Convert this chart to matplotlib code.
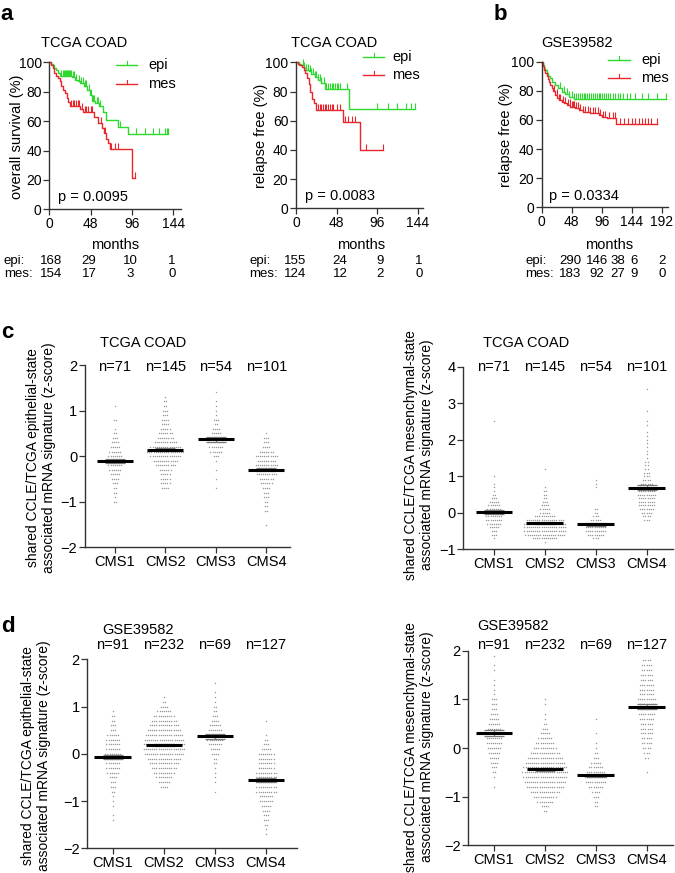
import numpy as np
import matplotlib
matplotlib.use('Agg')
import matplotlib.pyplot as plt
from matplotlib.lines import Line2D
from matplotlib.transforms import blended_transform_factory

plt.rcParams['font.family'] = ['Liberation Sans', 'DejaVu Sans']
plt.rcParams['font.size'] = 9.5
plt.rcParams['axes.linewidth'] = 1.0

W, H = 675, 873
GREEN = '#2cd92c'
RED = '#e8262b'
DOT = '#9a9a9a'

# ---------------- Kaplan-Meier data (step times / survival %) ----------------
# a, TCGA COAD overall survival
os_epi_t = [0, 2, 4, 6, 8, 10, 13, 26, 30, 33, 36, 40, 44, 47, 50, 53, 58, 62, 66, 80, 92]
os_epi_s = [100, 99, 98, 96, 95, 93, 91, 90, 88, 87, 86, 84, 81, 78, 74, 72, 70, 66, 61, 56, 51]
os_epi_end = 138
os_epi_cens = [14, 16, 17, 18, 19, 20, 21, 22, 23, 24, 25, 27, 29, 31, 35, 37, 39, 41, 43,
               46, 48, 51, 52, 55, 57, 59, 82, 101, 111, 120, 128, 134, 137, 138]
os_mes_t = [0, 2, 4, 6, 8, 10, 12, 14, 16, 18, 20, 22, 24, 36, 39, 52, 56, 61, 64, 66, 68, 70, 96]
os_mes_s = [100, 98, 96, 93, 91, 89, 87, 84, 81, 79, 76, 73, 70, 68, 66, 63, 59, 55, 52, 48, 45, 41, 21]
os_mes_end = 99
os_mes_cens = [25, 27, 29, 31, 33, 35, 38, 41, 43, 45, 48, 50, 60, 65, 72, 76, 80, 99]

# a, TCGA COAD relapse free
rf_epi_t = [0, 3, 6, 9, 12, 15, 18, 22, 26, 30, 34, 63]
rf_epi_s = [100, 99, 98, 96, 95, 94, 92, 90, 88, 86, 82, 68]
rf_epi_end = 141
rf_epi_cens = [8, 10, 12, 14, 16, 18, 20, 22, 24, 26, 28, 30, 33, 36, 38, 40, 42, 44, 46, 48,
               50, 52, 60, 96, 109, 119, 130, 136, 140]
rf_mes_t = [0, 2, 4, 7, 9, 11, 13, 15, 17, 19, 21, 24, 55, 75]
rf_mes_s = [100, 99, 98, 97, 95, 93, 89, 85, 80, 75, 72, 67, 59, 40]
rf_mes_end = 103
rf_mes_cens = [26, 28, 30, 32, 34, 36, 38, 40, 42, 44, 48, 52, 58, 62, 66, 70, 83, 103]

# b, GSE39582 relapse free
gse_epi_t = [0, 2, 4, 6, 8, 10, 13, 17, 21, 26, 32, 38, 43, 51]
gse_epi_s = [100, 98, 96, 94, 92, 90, 88.6, 86, 84, 82, 79.4, 77.5, 76, 74.4]
gse_epi_end = 199
gse_epi_cens = [30, 35, 40, 44, 48, 52, 55, 58, 61, 64, 67, 70, 73, 76, 79, 82, 85, 88, 91, 94,
                97, 100, 103, 106, 110, 114, 118, 122, 126, 130, 136, 142, 150, 160, 170, 185, 199]
gse_mes_t = [0, 2, 4, 6, 8, 10, 12, 14, 16, 18, 21, 25, 28, 32, 36, 40, 46, 53, 59, 66, 77, 91, 96, 105, 119]
gse_mes_s = [100, 97, 94, 92, 90, 88, 86, 84, 82, 80, 77, 75, 74, 72.5, 71.5, 70.2, 69, 68, 66.8,
             65.5, 64.5, 63.4, 62.2, 61, 57]
gse_mes_end = 184
gse_mes_cens = [20, 24, 28, 30, 34, 38, 42, 45, 48, 50, 52, 55, 58, 62, 66, 70, 74, 78, 82, 86, 90,
                94, 98, 102, 108, 114, 118, 125, 132, 138, 145, 150, 155, 160, 165, 170, 175, 184]

# numbers at risk
os_risk_epi = [168, 29, 10, 1]
os_risk_mes = [154, 17, 3, 0]
rf_risk_epi = [155, 24, 9, 1]
rf_risk_mes = [124, 12, 2, 0]
gse_risk_epi = [290, 146, 38, 6, 2]
gse_risk_mes = [183, 92, 27, 9, 0]

# ---------------- dot plot data: counts per 0.1 bin, from a start value ----------------
cms = ['CMS1', 'CMS2', 'CMS3', 'CMS4']
tcga_n = [71, 145, 54, 101]
gse_n = [91, 232, 69, 127]

tcga_epi_start = [-1.0, -0.7, -0.7, -1.5]
tcga_epi_counts = [
    [2, 1, 2, 2, 3, 4, 5, 6, 7, 8, 7, 6, 5, 4, 3, 2, 1, 0, 2, 0, 0, 1],
    [4, 5, 5, 5, 6, 10, 12, 15, 18, 15, 11, 8, 7, 5, 4, 4, 3, 3, 2, 2, 1],
    [1, 0, 1, 0, 1, 0, 1, 3, 6, 7, 8, 7, 5, 4, 2, 3, 1, 1, 1, 1, 0, 1],
    [1, 0, 0, 2, 2, 2, 3, 3, 4, 6, 7, 10, 12, 11, 9, 11, 7, 4, 3, 3, 1],
]
tcga_mes_start = [-0.7, -0.8, -0.7, -0.2]
tcga_mes_counts = [
    [1, 3, 3, 5, 7, 8, 8, 8, 7, 6, 5, 3, 2, 1, 1, 1, 0, 1, 0, 0, 0, 0, 0, 0, 0, 0, 0, 0, 0, 0, 0, 0, 1],
    [1, 12, 19, 20, 20, 20, 18, 10, 5, 5, 4, 3, 2, 2, 2, 1, 0, 0, 0, 0, 1],
    [3, 8, 10, 10, 8, 5, 3, 2, 2, 0, 0, 0, 0, 0, 1, 1, 1],
    [3, 4, 5, 7, 8, 8, 8, 9, 8, 7, 6, 4, 3, 3, 2, 2, 2, 1, 1, 1, 1, 1, 1, 1, 1, 0, 1, 1, 0, 0, 1,
     0, 0, 0, 0, 0, 1],
]
gse_epi_start = [-1.4, -0.7, -0.8, -1.7]
gse_epi_counts = [
    [1, 1, 0, 1, 1, 1, 2, 3, 3, 4, 6, 7, 7, 8, 8, 7, 7, 7, 6, 3, 3, 2, 2, 1],
    [4, 6, 8, 10, 12, 14, 16, 19, 20, 20, 19, 18, 16, 14, 12, 10, 7, 4, 2, 1],
    [1, 0, 1, 1, 1, 1, 2, 2, 4, 5, 7, 8, 8, 7, 6, 4, 3, 2, 2, 1, 1, 1, 0, 1],
    [1, 1, 2, 3, 3, 4, 5, 7, 7, 10, 10, 10, 10, 10, 8, 8, 8, 8, 5, 3, 2, 1, 0, 0, 1],
]
gse_mes_start = [-0.8, -1.3, -1.2, -0.5]
gse_mes_counts = [
    [1, 0, 1, 2, 3, 4, 5, 6, 7, 8, 8, 8, 7, 6, 5, 4, 3, 3, 3, 1, 1, 1, 1, 0, 1, 1, 0, 1],
    [2, 4, 8, 11, 14, 18, 20, 21, 22, 21, 19, 17, 14, 11, 9, 7, 5, 3, 2, 1, 1, 0, 1, 1],
    [2, 2, 3, 4, 7, 10, 11, 9, 7, 5, 3, 2, 1, 1, 0, 1, 0, 0, 1],
    [1, 0, 0, 2, 3, 4, 5, 5, 6, 6, 6, 7, 8, 9, 9, 9, 7, 7, 7, 6, 6, 5, 5, 4],
]

fig = plt.figure(figsize=(6.75, 8.73), dpi=100)


def rect(l, t, r, b):
    return [l / W, 1 - b / H, (r - l) / W, (b - t) / H]


def ftext(x, y, s, **kw):
    kw.setdefault('va', 'center')
    fig.text(x / W, 1 - y / H, s, **kw)


def style(ax, size=10.5):
    for sp in ['top', 'right']:
        ax.spines[sp].set_visible(False)
    for sp in ['left', 'bottom']:
        ax.spines[sp].set_color('#333333')
    ax.tick_params(direction='out', length=4, width=0.9, colors='#333333',
                   labelcolor='black', labelsize=size, pad=1.5)


def km(box, xmax, xticks, curves):
    ax = fig.add_axes(rect(*box))
    for t, s, end, cens, col in curves:
        ax.step(list(t) + [end], list(s) + [s[-1]], where='post', color=col, lw=1.0, clip_on=False)
        idx = np.searchsorted(t, cens, side='right') - 1
        ax.plot(cens, np.array(s)[idx], ls='none', marker=2, ms=4, mew=0.8, color=col, clip_on=False)
    ax.set_xlim(0, xmax)
    ax.set_ylim(0, 100)
    ax.set_xticks(xticks)
    ax.set_yticks([0, 20, 40, 60, 80, 100])
    style(ax, 10)
    return ax


def km_legend(x0, x1, xt, y0, y1):
    for y, col, lab in [(y0, GREEN, 'epi'), (y1, RED, 'mes')]:
        fig.add_artist(Line2D([x0 / W, x1 / W], [1 - y / H] * 2, color=col, lw=1))
        xm = (x0 + x1) / 2
        fig.add_artist(Line2D([xm / W] * 2, [1 - y / H, 1 - (y - 4) / H], color=col, lw=0.8))
        ftext(xt, y, lab, ha='left', fontsize=10.5)


def risk_rows(xlab, cols, epi, mes):
    for y, lab, vals in [(261, 'epi:', epi), (274, 'mes:', mes)]:
        ftext(xlab, y, lab, ha='left', fontsize=9.5)
        for x, v in zip(cols, vals):
            ftext(x, y, str(v), ha='center', fontsize=9.5)


# ---------------- panel a / b ----------------
km((49.3, 62.3, 181, 209.3), 153, [0, 48, 96, 144],
   [(os_epi_t, os_epi_s, os_epi_end, os_epi_cens, GREEN),
    (os_mes_t, os_mes_s, os_mes_end, os_mes_cens, RED)])
km((296, 62.3, 423, 208.3), 150, [0, 48, 96, 144],
   [(rf_epi_t, rf_epi_s, rf_epi_end, rf_epi_cens, GREEN),
    (rf_mes_t, rf_mes_s, rf_mes_end, rf_mes_cens, RED)])
km((541.7, 61.7, 668, 207.3), 202, [0, 48, 96, 144, 192],
   [(gse_epi_t, gse_epi_s, gse_epi_end, gse_epi_cens, GREEN),
    (gse_mes_t, gse_mes_s, gse_mes_end, gse_mes_cens, RED)])

km_legend(116, 137, 148, 65, 84)
km_legend(363, 384, 392, 57, 75)
km_legend(608, 630, 641, 60, 78)

ftext(84, 43, 'TCGA COAD', ha='center', fontsize=10.5)
ftext(334, 43, 'TCGA COAD', ha='center', fontsize=10.5)
ftext(577, 43, 'GSE39582', ha='center', fontsize=10.5)

ftext(17, 137, 'overall survival (%)', ha='center', rotation=90, fontsize=10.5)
ftext(261, 136, 'relapse free (%)', ha='center', rotation=90, fontsize=10.5)
ftext(506, 135, 'relapse free (%)', ha='center', rotation=90, fontsize=10.5)

ftext(58, 197, 'p = 0.0095', ha='left', fontsize=10.5)
ftext(305, 196, 'p = 0.0083', ha='left', fontsize=10.5)
ftext(549, 196, 'p = 0.0334', ha='left', fontsize=10.5)

ftext(115, 245, 'months', ha='center', fontsize=10.5)
ftext(361, 245, 'months', ha='center', fontsize=10.5)
ftext(609, 245, 'months', ha='center', fontsize=10.5)

risk_rows(4, [51, 89, 130, 172], os_risk_epi, os_risk_mes)
risk_rows(249, [295, 340, 380, 419], rf_risk_epi, rf_risk_mes)
risk_rows(525, [570, 597, 618, 634, 662], gse_risk_epi, gse_risk_mes)


# ---------------- panel c / d ----------------
def dotplot(box, xlim, ylim, yticks, starts, counts, ns, n_y, title, title_xy, ylab, ylab_xy):
    ax = fig.add_axes(rect(*box))
    for i, (st, cnt) in enumerate(zip(starts, counts)):
        pos = i + 1
        xs, ys = [], []
        for j, k in enumerate(cnt):
            off = (np.arange(k) - (k - 1) / 2) * 0.042
            xs.extend(pos + off)
            ys.extend([st + j * 0.1] * k)
        ys = np.array(ys)
        ax.scatter(xs, ys, s=1.1, color=DOT, lw=0, zorder=1)
        m = ys.mean()
        se = ys.std(ddof=1) / np.sqrt(len(ys))
        ax.errorbar(pos, m, yerr=se, color='#7a7a7a', capsize=7, elinewidth=0.9,
                    capthick=0.9, zorder=2)
        ax.plot([pos - 0.36, pos + 0.36], [m, m], color='black', lw=2.2, zorder=3,
                solid_capstyle='butt')
    ax.set_xlim(*xlim)
    ax.set_ylim(*ylim)
    ax.set_yticks(yticks)
    ax.set_xticks([1, 2, 3, 4])
    ax.set_xticklabels(cms)
    style(ax)
    tr = blended_transform_factory(ax.transData, fig.transFigure)
    for i, n in enumerate(ns):
        ax.text(i + 1, 1 - n_y / H, 'n=%d' % n, transform=tr, ha='center', va='center',
                fontsize=10.5)
    ftext(title_xy[0], title_xy[1], title, ha='left', fontsize=10.5)
    ftext(ylab_xy[0], ylab_xy[1], ylab, ha='center', rotation=90, fontsize=10,
          multialignment='center', linespacing=1.1)
    return ax


epi_lab = 'shared CCLE/TCGA epithelial-state\nassociated mRNA signature (z-score)'
mes_lab = 'shared CCLE/TCGA mesenchymal-state\nassociated mRNA signature (z-score)'

dotplot((85, 365, 290, 547.3), (0.41, 4.47), (-2, 2), [-2, -1, 0, 1, 2],
        tcga_epi_start, tcga_epi_counts, tcga_n, 367, 'TCGA COAD', (100, 343),
        epi_lab, (41, 458))
dotplot((463.3, 366.7, 673, 549.3), (0.40, 4.52), (-1, 4), [-1, 0, 1, 2, 3, 4],
        tcga_mes_start, tcga_mes_counts, tcga_n, 367, 'TCGA COAD', (483, 343),
        mes_lab, (419, 455))
dotplot((87.3, 659.3, 296.7, 848.3), (0.5, 4.6), (-2, 2), [-2, -1, 0, 1, 2],
        gse_epi_start, gse_epi_counts, gse_n, 645, 'GSE39582', (102, 630),
        epi_lab, (36, 756))
dotplot((468.3, 650.7, 673, 845.3), (0.495, 4.52), (-2, 2), [-2, -1, 0, 1, 2],
        gse_mes_start, gse_mes_counts, gse_n, 645, 'GSE39582', (477, 626),
        mes_lab, (419, 747))

# panel letters
for x, y, s in [(7, 15, 'a'), (500, 14, 'b'), (7, 332, 'c'), (8, 627, 'd')]:
    ftext(x, y, s, ha='center', fontsize=16, fontweight='bold')

fig.savefig('out.png', dpi=100)
